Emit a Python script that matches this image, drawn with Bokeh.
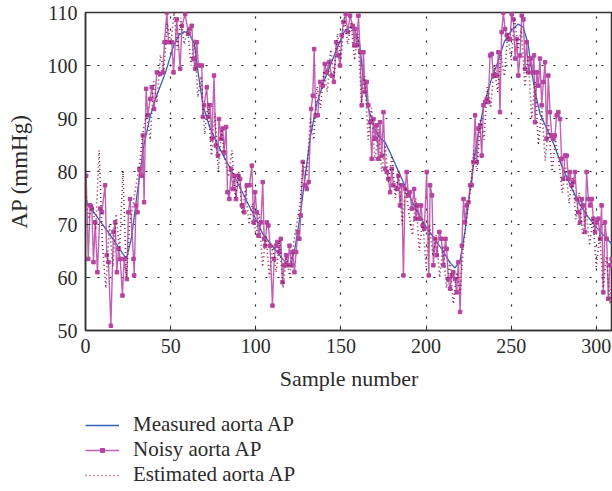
from bokeh.plotting import figure
from bokeh.models import Range1d, Legend, LegendItem, FixedTicker
from bokeh.layouts import column
from bokeh.embed import file_html
from bokeh.resources import INLINE

# ---------------- data ----------------
measured_x = [0, 5, 10, 15, 20, 24, 27, 30, 34, 38, 42, 47, 52, 55, 58, 61, 64, 66, 69, 73,
              77, 81, 86, 91, 95, 99, 104, 110, 115, 120, 123, 126, 129, 132, 136, 140, 144,
              148, 152, 155, 158, 161, 163, 166, 170, 173, 176, 179, 182, 185, 190, 195, 200,
              205, 210, 214, 217, 220, 223, 226, 230, 234, 238, 242, 246, 250, 254, 257, 260,
              262, 264, 267, 271, 275, 280, 285, 290, 295, 300, 305, 310]
measured_y = [74.5, 72.3, 70.0, 67.8, 65.4, 63.5, 67.5, 75.0, 84.5, 90.5, 94.5, 98.7, 104.0,
              105.8, 106.4, 106.0, 104.0, 99.0, 92.5, 88.3, 85.5, 83.0, 80.0, 76.8, 74.2, 71.7,
              68.3, 65.8, 63.8, 62.0, 65.5, 71.5, 79.0, 86.5, 93.0, 97.0, 100.2, 103.5, 106.4,
              107.2, 106.8, 104.0, 98.0, 92.0, 88.0, 86.3, 85.5, 83.5, 81.3, 79.2, 75.5, 72.3,
              69.6, 67.3, 65.0, 62.8, 61.8, 63.2, 69.0, 77.0, 86.0, 92.5, 97.0, 100.5, 104.5,
              106.5, 107.8, 107.3, 104.0, 99.0, 95.0, 90.8, 88.0, 85.2, 80.8, 77.2, 74.0, 71.5,
              69.5, 67.7, 66.0]

noisy_x = [0.4, 1.6, 2.7, 3.7, 4.7, 5.7, 7.0, 8.6, 9.6, 11.5, 12.5, 13.5, 14.9, 16.4, 17.4,
           18.4, 19.4, 20.4, 21.7, 22.7, 24.3, 25.2, 26.2, 28.2, 28.6, 29.6, 30.5, 31.7, 33.1,
           33.7, 34.4, 35.6, 36.6, 38.0, 38.9, 40.3, 41.9, 43.8, 45.4, 46.4, 47.8, 48.7, 50.7,
           51.7,
           53.6, 55.6, 56.6, 58.5, 60.5, 61.4, 62.4, 63.4, 64.4, 65.4, 66.3, 68.3, 68.9, 69.7,
           71.2, 72.2, 73.2, 74.2, 75.5, 76.5, 77.7, 78.4, 79.6, 80.6, 81.4, 82.6, 83.4, 84.5,
           85.5, 86.5, 87.5, 88.4, 89.8, 90.8, 91.8, 93.2, 94.7, 96.3, 97.7, 98.7, 99.6, 100.6,
           101.6, 103.0, 104.1, 104.9,
           105.5, 106.5, 107.4, 108.4, 109.8, 110.8, 111.9, 112.7, 113.7, 114.7, 115.7, 116.6,
           117.8, 118.8, 119.8, 120.9, 121.7, 122.7, 123.7, 124.7, 125.6, 126.4, 127.6, 128.8,
           130.0, 131.1, 132.5, 133.5, 134.3, 135.2, 136.4, 137.8, 139.3, 140.5, 141.7, 143.0,
           144.6, 145.9, 147.2, 148.5, 149.5, 150.5, 151.5, 152.8, 154.0, 155.4, 156.9, 157.9,
           158.3, 159.3, 160.3, 161.3, 162.2, 163.2, 164.2, 165.2, 166.1, 167.1, 168.1, 169.1,
           170.1, 171.0, 172.0, 173.0, 174.0, 175.0, 176.0, 176.9, 177.9, 178.9, 179.9, 180.8,
           182.8, 183.8, 184.7, 185.7, 186.7, 187.7, 188.6, 189.6, 190.6, 191.6, 193.0, 193.9,
           194.9, 196.1, 197.1, 198.0, 199.0, 200.4, 201.6, 202.4, 203.5, 204.3, 205.3, 206.3,
           207.8, 209.0, 210.2, 211.4,
           212.1, 213.1, 214.1, 215.1, 216.0, 217.0, 218.0, 219.0, 220.0, 221.0, 222.0, 222.9,
           223.9, 224.9, 225.9, 226.8, 227.8, 228.8, 229.8, 230.8, 231.7, 232.7, 233.7, 234.7,
           235.7, 236.6, 237.6, 238.6, 239.5, 240.5, 241.5, 242.5, 243.4, 244.4, 245.4, 246.4,
           247.4, 248.3, 249.3, 250.3, 251.3, 252.3, 253.3, 254.2, 255.2, 256.2, 257.2, 258.1,
           259.1, 260.1, 261.5, 262.6, 263.4,
           264.0, 265.0, 266.0, 266.9, 267.9, 268.9, 269.9, 270.8, 271.8, 272.8, 273.8, 274.8,
           275.7, 276.7, 277.7, 278.7, 279.6, 280.6, 281.6, 282.6, 283.6, 284.6, 285.5, 286.5,
           287.5, 288.5, 289.4, 290.4, 291.4, 292.4, 293.4, 294.3, 295.3, 296.3, 297.3, 298.3,
           299.2, 300.2, 301.2, 302.2, 303.1, 304.1, 305.1, 306.1, 307.0, 308.0, 309.0]
noisy_y = [79.2, 63.5, 73.6, 73.0, 62.9, 70.4, 61.0, 73.0, 72.3, 77.4, 64.2, 62.9, 50.9, 68.6,
           70.4, 61.0, 65.4, 63.5, 56.6, 63.5, 59.7, 72.3, 74.8, 63.5, 60.4, 73.6, 72.3, 80.5,
           79.2, 86.8, 74.2, 95.6, 90.6, 93.7, 95.9, 91.8, 98.7, 98.4, 98.7, 104.4, 110.0, 104.4,
           104.4, 98.7,
           108.7, 99.4, 107.5, 109.7, 106.0, 106.9, 107.5, 101.3, 99.4, 104.4, 100.0, 100.0,
           90.3, 92.5, 95.9, 90.3, 92.5, 86.2, 98.1, 84.9, 83.0, 89.9, 86.2, 88.1, 83.6, 88.4,
           76.1, 74.8, 80.5, 76.7, 79.2, 74.8, 79.2, 78.6, 73.6, 72.3, 77.4, 77.4, 81.1, 70.4,
           76.1, 72.3, 67.9, 70.4, 78.0, 67.3,
           66.0, 70.4, 69.8, 66.0, 54.7, 63.5, 66.0, 66.7, 64.8, 67.3, 59.1, 62.3, 64.2, 62.3,
           66.0, 62.3, 64.8, 61.0, 64.8, 68.6, 67.3, 71.7, 81.8, 77.4, 76.7, 78.0, 91.8, 94.3,
           103.1, 90.6, 90.6, 96.9, 96.2, 100.3, 98.7, 100.6, 98.1, 96.9, 104.4, 101.9, 100.0,
           105.7, 108.2, 109.7, 106.3, 109.4, 107.5, 103.8,
           106.9, 103.8, 109.4, 102.5, 92.5, 102.5, 95.0, 96.9, 92.5, 89.3, 82.4, 89.9, 86.2,
           88.7, 82.4, 89.3, 83.0, 91.2, 80.5, 79.9, 78.6, 76.1, 80.5, 77.4, 76.7, 79.2, 73.6,
           77.4, 60.4, 76.7, 79.9, 75.5, 76.1, 73.0, 76.7, 71.1, 73.6, 71.1, 73.6, 69.8, 69.2,
           79.9, 60.4, 77.4, 75.5, 62.3, 67.3, 64.2, 68.6, 67.3, 62.3, 67.3,
           65.4, 59.7, 57.9, 60.4, 61.0, 59.7, 57.2, 62.9, 53.5, 66.0, 74.8, 70.4, 73.6, 74.2,
           77.4, 77.4, 81.8, 90.6, 81.8, 88.1, 88.7, 83.0, 92.5, 93.1, 93.7, 93.1, 101.9, 102.2,
           98.1, 98.1, 98.1, 102.5, 91.2, 106.3, 110.0, 106.9, 105.7, 105.0, 105.0, 109.7, 108.7,
           101.3, 105.0, 98.1, 101.9, 109.4, 108.7, 99.4, 104.4, 98.7, 101.3, 98.7, 101.9,
           89.3, 98.7, 96.2, 101.3, 92.5, 96.9, 100.6, 86.2, 98.1, 91.2, 86.8, 86.2, 86.8, 90.6,
           91.2, 89.9, 82.4, 78.6, 83.0, 83.0, 78.6, 79.9, 77.4, 78.0, 79.9, 74.8, 72.3, 70.4,
           74.8, 73.6, 68.6, 79.9, 74.8, 73.6, 74.8, 71.1, 68.6, 70.4, 71.1, 67.3, 73.6, 57.2,
           70.4, 67.3, 56.0, 62.3, 63.5]

estimated_x = list(range(0, 311, 2))
estimated_y = [76, 71, 74, 69, 84, 66, 58, 70, 62, 72, 65, 80, 60, 70, 74, 78, 82, 88, 91, 86,
               97, 93, 102, 99, 108, 104, 110, 103, 109, 104, 107, 100, 105, 94, 98, 87, 93, 83,
               91, 80, 88, 82, 79, 84, 75, 80, 72, 77, 70, 74, 68, 72, 62, 68, 60, 66, 61, 67,
               58, 64, 60, 66, 70, 74, 82, 79, 90, 86, 96, 92, 99, 95, 103, 98, 106, 101, 109,
               104, 108, 101, 106, 93, 98, 86, 92, 82, 88, 80, 85, 78, 83, 75, 80, 70, 77, 72,
               68, 75, 65, 71, 62, 70, 64, 68, 60, 66, 58, 63, 55, 61, 57, 66, 72, 76, 84, 80,
               90, 86, 96, 92, 100, 95, 102, 98, 106, 101, 109, 103, 107, 96, 102, 90, 97, 85,
               92, 82, 89, 80, 86, 82, 76, 81, 74, 79, 71, 76, 68, 73, 66, 71, 62, 68, 58, 64,
               55, 62]

x_ticks = [0, 50, 100, 150, 200, 250, 300]
y_ticks = [50, 60, 70, 80, 90, 100, 110]
series_labels = ["Measured aorta AP", "Noisy aorta AP", "Estimated aorta AP"]

FONT = "Liberation Serif"
TXT = "#2b2b2b"
C_MEAS = "#3560b8"
C_NOISY = "#bb4fab"
C_NOISY_PT = "#b4449f"
C_EST = "#7e1a4a"

# ---------------- main plot ----------------
p = figure(width=612, height=400, output_backend="svg", toolbar_location=None,
           x_range=Range1d(0, 309.5), y_range=Range1d(50, 110),
           min_border_left=85, min_border_right=0, min_border_top=12, min_border_bottom=70)

p.background_fill_color = "white"
p.border_fill_color = "white"
p.outline_line_color = "#333333"
p.outline_line_width = 1.5

for ax in (p.xaxis[0], p.yaxis[0]):
    ax.axis_line_color = "#333333"
    ax.axis_line_width = 1.5
    ax.major_tick_in = 5
    ax.major_tick_out = 0
    ax.major_tick_line_color = "#333333"
    ax.minor_tick_line_color = None
    ax.major_label_text_font = FONT
    ax.major_label_text_font_size = "20px"
    ax.major_label_text_color = TXT
    ax.axis_label_text_font = FONT
    ax.axis_label_text_font_style = "normal"
    ax.axis_label_text_color = TXT

p.xaxis.axis_label_text_font_size = "22px"
p.yaxis.axis_label_text_font_size = "23px"
p.xaxis.ticker = FixedTicker(ticks=x_ticks)
p.yaxis.ticker = FixedTicker(ticks=y_ticks)
p.xaxis.axis_label = "Sample number"
p.yaxis.axis_label = "AP (mmHg)"
p.xaxis.major_label_standoff = 8
p.yaxis.major_label_standoff = 8
p.xaxis.axis_label_standoff = 10
p.yaxis.axis_label_standoff = 13

for g in (p.xgrid[0], p.ygrid[0]):
    g.grid_line_color = "#222222"
    g.grid_line_dash = "2 10"
    g.grid_line_width = 1.2

p.line(measured_x, measured_y, line_color=C_MEAS, line_width=1.3)
p.line(noisy_x, noisy_y, line_color=C_NOISY, line_width=1.4, line_alpha=0.9)
p.scatter(noisy_x, noisy_y, marker="square", size=3.5,
          fill_color=C_NOISY_PT, line_color=C_NOISY_PT)
p.line(estimated_x, estimated_y, line_color=C_EST, line_width=1.6,
       line_dash="1 3", line_alpha=0.95)

# ---------------- legend strip below the plot ----------------
lg = figure(width=612, height=91, output_backend="svg", toolbar_location=None,
            x_range=Range1d(-1000, -999), y_range=Range1d(-1000, -999),
            x_axis_type=None, y_axis_type=None,
            min_border_left=0, min_border_right=0, min_border_top=0, min_border_bottom=0)
lg.outline_line_color = None
lg.background_fill_color = "white"
lg.border_fill_color = "white"
lg.grid.visible = False

l_meas = lg.line(measured_x, measured_y, line_color=C_MEAS, line_width=1.3)
l_noisy = lg.line(noisy_x, noisy_y, line_color=C_NOISY, line_width=1.4, line_alpha=0.9)
l_noisy_pt = lg.scatter(noisy_x, noisy_y, marker="square", size=3.5,
                        fill_color=C_NOISY_PT, line_color=C_NOISY_PT)
l_est = lg.line(estimated_x, estimated_y, line_color=C_EST, line_width=1.6,
                line_dash="1 3", line_alpha=0.95)

legend = Legend(items=[
    LegendItem(label=series_labels[0], renderers=[l_meas]),
    LegendItem(label=series_labels[1], renderers=[l_noisy, l_noisy_pt]),
    LegendItem(label=series_labels[2], renderers=[l_est]),
], location=(0, 4))
legend.background_fill_alpha = 0
legend.border_line_color = None
legend.label_text_font = FONT
legend.label_text_font_size = "21px"
legend.label_text_line_height = 1.1
legend.label_text_color = TXT
legend.glyph_width = 34
legend.glyph_height = 10
legend.label_height = 20
legend.spacing = 0
legend.padding = 0
legend.margin = 0
legend.label_standoff = 14
lg.add_layout(legend, "center")

layout = column(p, lg, spacing=0)
open("out.html", "w").write(file_html(layout, INLINE))
